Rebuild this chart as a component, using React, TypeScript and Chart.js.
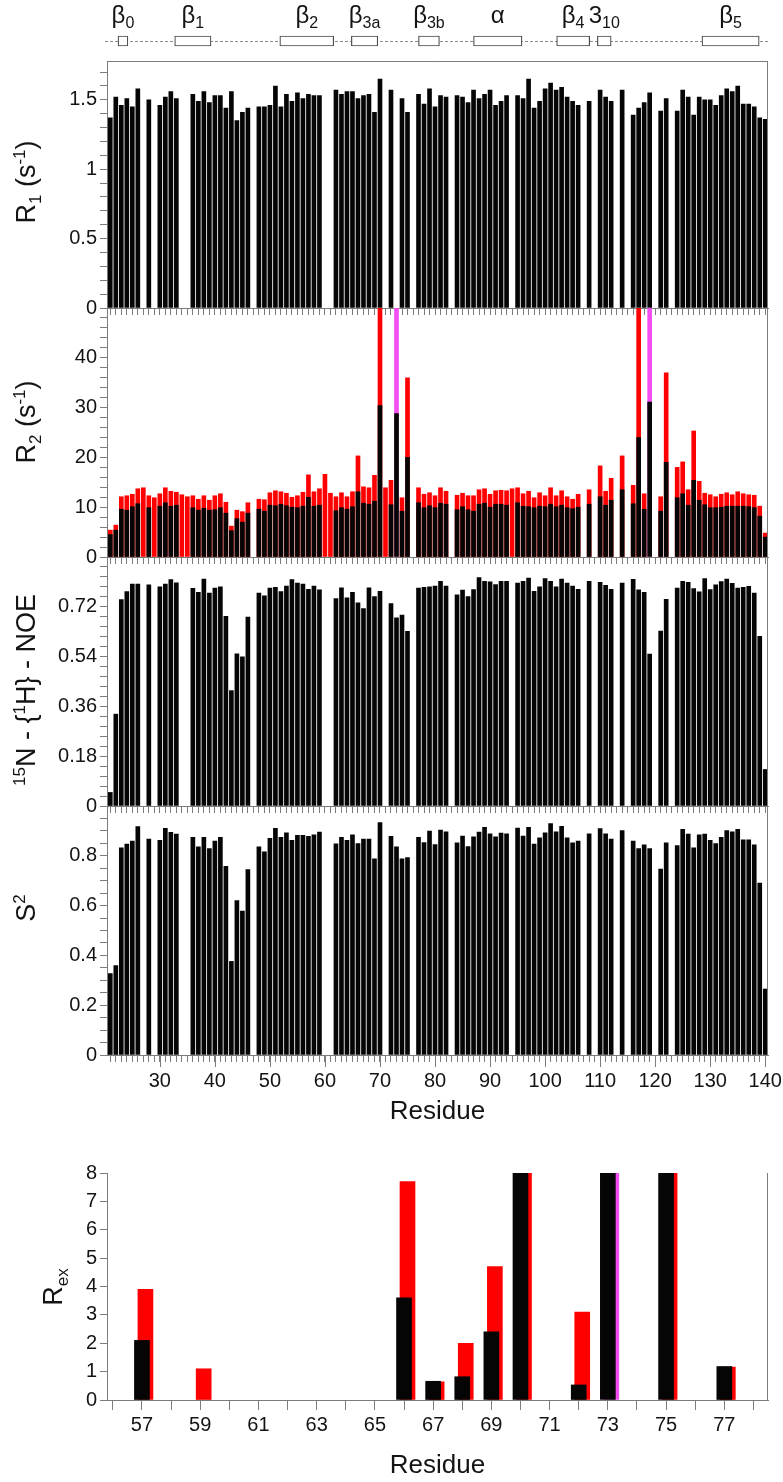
import React, { useEffect, useRef } from 'react';
import { Chart, registerables } from 'chart.js';

Chart.register(...registerables);

// ---------------- data ----------------
const residues = [
  21, 22, 23, 24, 25, 26, 27, 28, 29, 30,
  31, 32, 33, 34, 35, 36, 37, 38, 39, 40,
  41, 42, 43, 44, 45, 46, 47, 48, 49, 50,
  51, 52, 53, 54, 55, 56, 57, 58, 59, 60,
  61, 62, 63, 64, 65, 66, 67, 68, 69, 70,
  71, 72, 73, 74, 75, 76, 77, 78, 79, 80,
  81, 82, 83, 84, 85, 86, 87, 88, 89, 90,
  91, 92, 93, 94, 95, 96, 97, 98, 99, 100,
  101, 102, 103, 104, 105, 106, 107, 108, 109, 110,
  111, 112, 113, 114, 115, 116, 117, 118, 119, 120,
  121, 122, 123, 124, 125, 126, 127, 128, 129, 130,
  131, 132, 133, 134, 135, 136, 137, 138, 139, 140,
];

const r1 = [
  1.37, 1.52, 1.46, 1.51, 1.45, 1.58, null, 1.5, null, 1.46,
  1.52, 1.56, 1.51, null, null, 1.54, 1.49, 1.56, 1.48, 1.53,
  1.53, 1.44, 1.56, 1.35, 1.41, 1.44, null, 1.45, 1.45, 1.46,
  1.6, 1.45, 1.54, 1.49, 1.55, 1.51, 1.54, 1.53, 1.53, null,
  null, 1.57, 1.54, 1.56, 1.56, 1.51, 1.53, 1.54, 1.41, 1.65,
  null, 1.57, null, 1.51, 1.41, null, 1.54, 1.47, 1.58, 1.45,
  1.53, 1.52, null, 1.53, 1.52, 1.48, 1.57, 1.51, 1.54, 1.57,
  1.46, 1.49, 1.53, null, 1.53, 1.51, 1.65, 1.44, 1.49, 1.58,
  1.62, 1.57, 1.59, 1.52, 1.49, 1.46, null, 1.49, null, 1.57,
  1.52, 1.49, null, 1.57, null, 1.39, 1.44, 1.48, 1.55, null,
  1.42, 1.51, null, 1.42, 1.57, 1.52, 1.39, 1.52, 1.5, 1.5,
  1.46, 1.53, 1.58, 1.56, 1.6, 1.47, 1.47, 1.45, 1.37, 1.36,
];

const r2Black = [
  4.5, 5.4, 9.6, 9.4, 10.1, 10.7, null, 9.9, null, 10.2,
  10.9, 10.2, 10.4, null, null, 9.9, 9.4, 9.8, 9.4, 9.5,
  9.9, 8.8, 5.3, 7.7, 7.0, 8.8, null, 9.6, 9.2, 10.4,
  10.3, 10.6, 10.3, 10.0, 9.9, 10.2, 12.0, 10.2, 10.4, null,
  null, 9.3, 9.9, 9.6, 10.1, 13.1, 10.8, 10.6, 11.2, 30.4,
  null, 10.5, 28.8, 9.2, 20.0, null, 10.9, 9.9, 10.3, 9.9,
  10.8, 10.6, null, 9.5, 10.1, 9.5, 9.2, 10.6, 10.8, 10.0,
  10.6, 10.6, 10.4, null, 10.9, 10.2, 10.1, 9.9, 10.2, 10.1,
  10.6, 10.1, 10.4, 9.9, 9.7, 10.0, null, 10.6, null, 12.1,
  10.4, 11.4, null, 13.5, null, 10.7, 24.0, 9.6, 31.1, null,
  9.2, 19.0, null, 11.9, 12.7, 10.4, 15.4, 11.4, 10.5, 9.9,
  9.9, 10.0, 10.2, 10.2, 10.2, 10.2, 10.1, 9.9, 8.2, 4.0,
];

const r2Red = [
  5.4, 6.4, 12.1, 12.3, 12.6, 13.7, 13.9, 12.3, 11.9, 12.7,
  13.9, 13.2, 13.0, 12.5, 12.1, 12.3, 11.6, 12.3, 11.4, 12.3,
  12.7, 11.0, 6.2, 9.4, 9.1, 10.9, null, 11.6, 11.5, 12.9,
  13.3, 13.1, 12.8, 12.0, 12.3, 13.0, 16.5, 13.1, 13.7, 16.6,
  12.8, 12.1, 12.9, 12.1, 13.1, 20.3, 14.1, 13.9, 16.4, 52,
  13.9, 15.4, 52, 11.9, 36.0, null, 13.9, 12.6, 12.9, 12.3,
  13.9, 13.2, null, 12.4, 12.8, 12.3, 12.3, 13.5, 13.7, 12.6,
  13.3, 13.4, 13.3, 13.7, 13.9, 12.7, 13.2, 11.9, 12.9, 12.3,
  13.9, 12.3, 13.3, 12.1, 11.6, 12.6, null, 13.5, null, 18.3,
  13.2, 15.8, null, 20.3, null, 14.4, 52, 12.7, 52, null,
  12.1, 37.0, null, 18.0, 19.1, 13.5, 25.3, 15.2, 12.8, 12.5,
  12.1, 12.6, 12.9, 12.5, 13.1, 12.7, 12.5, 12.4, 10.2, 4.8,
];

const magentaResidues = [73, 119];

const noe = [
  0.049, 0.332, 0.746, 0.775, 0.802, 0.802, null, 0.799, null, 0.792,
  0.802, 0.818, 0.807, null, null, 0.787, 0.772, 0.82, 0.77, 0.788,
  0.792, 0.686, 0.417, 0.55, 0.539, 0.683, null, 0.77, 0.76, 0.788,
  0.79, 0.775, 0.795, 0.818, 0.806, 0.802, 0.783, 0.795, 0.781, null,
  null, 0.75, 0.789, 0.752, 0.772, 0.734, 0.714, 0.789, 0.757, 0.776,
  null, 0.732, 0.68, 0.69, 0.631, null, 0.788, 0.79, 0.792, 0.795,
  0.812, 0.795, null, 0.763, 0.78, 0.757, 0.782, 0.826, 0.812, 0.81,
  0.8, 0.812, 0.812, null, 0.806, 0.812, 0.824, 0.776, 0.792, 0.822,
  0.812, 0.792, 0.82, 0.806, 0.795, 0.783, null, 0.812, null, 0.808,
  0.798, 0.783, null, 0.806, null, 0.819, 0.781, 0.772, 0.549, null,
  0.632, 0.747, null, 0.788, 0.812, 0.808, 0.786, 0.774, 0.822, 0.782,
  0.799, 0.811, 0.82, 0.805, 0.788, 0.79, 0.794, 0.77, 0.613, 0.132,
];

const s2 = [
  0.327, 0.359, 0.832, 0.847, 0.859, 0.917, null, 0.867, null, 0.862,
  0.91, 0.894, 0.887, null, null, 0.874, 0.836, 0.874, 0.829, 0.859,
  0.874, 0.758, 0.376, 0.62, 0.578, 0.745, null, 0.836, 0.816, 0.87,
  0.91, 0.874, 0.892, 0.862, 0.882, 0.882, 0.878, 0.884, 0.895, null,
  null, 0.848, 0.874, 0.862, 0.884, 0.849, 0.867, 0.867, 0.788, 0.933,
  null, 0.878, 0.836, 0.788, 0.793, null, 0.874, 0.853, 0.899, 0.845,
  0.903, 0.896, null, 0.852, 0.879, 0.837, 0.876, 0.895, 0.914, 0.888,
  0.876, 0.891, 0.888, null, 0.911, 0.879, 0.914, 0.847, 0.872, 0.892,
  0.929, 0.896, 0.918, 0.872, 0.852, 0.859, null, 0.888, null, 0.909,
  0.888, 0.867, null, 0.901, null, 0.859, 0.829, 0.844, 0.829, null,
  0.747, 0.852, null, 0.841, 0.906, 0.887, 0.832, 0.884, 0.887, 0.862,
  0.849, 0.874, 0.901, 0.896, 0.906, 0.864, 0.864, 0.844, 0.69, 0.265,
];

const rexResidues = [57, 59, 66, 67, 68, 69, 70, 72, 73, 75, 77];
const rexBlack = [2.1, null, 3.6, 0.66, 0.82, 2.4, 20.4, 0.53, 18.8, 10.0, 1.18];
const rexRed = [3.9, 1.1, 7.7, 0.64, 2.0, 4.7, 40.0, 3.1, 40.0, 23.4, 1.16];
const rexMagentaResidues = [73];

const ssMain = ['β', 'β', 'β', 'β', 'β', 'α', 'β', '3', 'β'];
const ssSub = ['0', '1', '2', '3a', '3b', '', '4', '10', '5'];
const ssStart = [22.4, 32.7, 51.8, 64.8, 77.0, 87.0, 102.1, 109.5, 128.5];
const ssEnd = [24.2, 39.3, 61.6, 69.6, 80.8, 95.8, 108.1, 112.0, 138.9];

// ---------------- style ----------------
const FONT = "'Liberation Sans', Arial, Helvetica, sans-serif";
const AXIS_COLOR = '#7c7c7c';
const TEXT_COLOR = '#141414';
const BLACK = '#050505';
const RED = '#ff0000';
const MAGENTA = '#f24ef2';

const CANVAS_W = 800;
const PLOT_LEFT = 107;
const PLOT_RIGHT = 768;
const X_MIN = 20.4;
const X_MAX = 140.5;
const REX_X_MIN = 55.8;
const REX_X_MAX = 78.5;
const REX_RED_SHIFT = 0.12;

type Seg = { t: string; k?: 'sub' | 'sup' };

function drawRich(
  ctx: CanvasRenderingContext2D,
  segs: Seg[],
  x: number,
  y: number,
  size: number,
  rotate: boolean,
  subSize?: number
) {
  const small = subSize ?? Math.round(size * 0.64);
  ctx.save();
  ctx.translate(x, y);
  if (rotate) ctx.rotate(-Math.PI / 2);
  ctx.textBaseline = 'alphabetic';
  ctx.textAlign = 'left';
  ctx.fillStyle = TEXT_COLOR;
  const parts = segs.map((s) => {
    const fs = s.k ? small : size;
    ctx.font = `${fs}px ${FONT}`;
    return { s, fs, w: ctx.measureText(s.t).width };
  });
  const total = parts.reduce((a, p) => a + p.w, 0);
  let cx = -total / 2;
  for (const p of parts) {
    ctx.font = `${p.fs}px ${FONT}`;
    const dy = p.s.k === 'sub' ? size * 0.22 : p.s.k === 'sup' ? -size * 0.38 : 0;
    ctx.fillText(p.s.t, cx, dy);
    cx += p.w;
  }
  ctx.restore();
}

function framePlugin(withTop: boolean) {
  return {
    id: 'frame',
    afterDraw(chart: any) {
      const { ctx, chartArea: a } = chart;
      ctx.save();
      ctx.strokeStyle = AXIS_COLOR;
      ctx.lineWidth = 1;
      ctx.beginPath();
      const xr = Math.round(a.right) - 0.5;
      ctx.moveTo(xr, a.top);
      ctx.lineTo(xr, a.bottom);
      if (withTop) {
        const yt = Math.round(a.top) + 0.5;
        ctx.moveTo(a.left, yt);
        ctx.lineTo(xr, yt);
      }
      ctx.stroke();
      ctx.restore();
    },
  };
}

function titlePlugin(segs: Seg[], x: number, y: number, size: number) {
  return {
    id: 'richTitle',
    afterDraw(chart: any) {
      drawRich(chart.ctx, segs, x, y, size, true);
    },
  };
}

function majorTickPlugin(every: number, len: number) {
  return {
    id: 'majorTicks',
    afterDraw(chart: any) {
      const sx = chart.scales.x;
      const { ctx, chartArea } = chart;
      ctx.save();
      ctx.strokeStyle = AXIS_COLOR;
      ctx.lineWidth = 1;
      ctx.beginPath();
      sx.ticks.forEach((t: any) => {
        if (Math.round(t.value) % every === 0) {
          const px = Math.round(sx.getPixelForValue(t.value)) + 0.5;
          ctx.moveTo(px, chartArea.bottom);
          ctx.lineTo(px, chartArea.bottom + len);
        }
      });
      ctx.stroke();
      ctx.restore();
    },
  };
}

function pts(vals: (number | null)[]) {
  const out: { x: number; y: number }[] = [];
  vals.forEach((v, i) => {
    if (v !== null) out.push({ x: residues[i], y: v });
  });
  return out;
}

function barSet(data: any[], color: any, thickness: number) {
  return {
    data,
    backgroundColor: color,
    borderWidth: 0,
    barThickness: thickness,
    grouped: false,
    clip: 0,
  };
}

const redOrMagenta = (list: number[]) => (c: any) =>
  c.raw && list.includes(Math.round(c.raw.x)) ? MAGENTA : RED;

interface PanelSpec {
  top: number;
  bottom: number;
  axisH: number;
  yMax: number;
  yStep: number;
  labelEvery: number;
  dec: number;
  datasets: any[];
  title: Seg[];
  titleX: number;
  titleY: number;
  topBorder: boolean;
  xLabels: boolean;
}

const PAD_TOP = 20;

const panels: PanelSpec[] = [
  {
    top: 61, bottom: 308, axisH: 20, yMax: 1.78, yStep: 0.1, labelEvery: 5, dec: 1,
    datasets: [barSet(pts(r1), BLACK, 4)],
    title: [{ t: 'R' }, { t: '1', k: 'sub' }, { t: ' (s' }, { t: '-1', k: 'sup' }, { t: ')' }],
    titleX: 35, titleY: 182, topBorder: true, xLabels: false,
  },
  {
    top: 308, bottom: 557, axisH: 20, yMax: 50, yStep: 2, labelEvery: 5, dec: 0,
    datasets: [barSet(pts(r2Black), BLACK, 4), barSet(pts(r2Red), redOrMagenta(magentaResidues), 4)],
    title: [{ t: 'R' }, { t: '2', k: 'sub' }, { t: ' (s' }, { t: '-1', k: 'sup' }, { t: ')' }],
    titleX: 35, titleY: 422, topBorder: false, xLabels: false,
  },
  {
    top: 557, bottom: 806, axisH: 20, yMax: 0.9, yStep: 0.036, labelEvery: 5, dec: 2,
    datasets: [barSet(pts(noe), BLACK, 4)],
    title: [{ t: '15', k: 'sup' }, { t: 'N - {' }, { t: '1', k: 'sup' }, { t: 'H} - NOE' }],
    titleX: 35, titleY: 690, topBorder: false, xLabels: false,
  },
  {
    top: 806, bottom: 1055, axisH: 72, yMax: 1.0, yStep: 0.05, labelEvery: 4, dec: 1,
    datasets: [barSet(pts(s2), BLACK, 4)],
    title: [{ t: 'S' }, { t: '2', k: 'sup' }],
    titleX: 35, titleY: 908, topBorder: false, xLabels: true,
  },
];

function panelConfig(p: PanelSpec, canvasTop: number) {
  const yTick = (value: number) => {
    const k = Math.round(value / p.yStep);
    if (k % p.labelEvery !== 0) return '';
    if (value > p.yMax - p.yStep * 0.5) return '';
    return String(parseFloat(value.toFixed(p.dec)));
  };
  return {
    type: 'bar',
    data: { datasets: p.datasets },
    options: {
      responsive: false,
      animation: false,
      events: [],
      layout: { padding: { top: p.top - canvasTop, right: CANVAS_W - PLOT_RIGHT, bottom: 0, left: 0 } },
      plugins: { legend: { display: false }, tooltip: { enabled: false }, title: { display: false } },
      scales: {
        x: {
          type: 'linear',
          min: X_MIN,
          max: X_MAX,
          offset: false,
          grid: { display: true, drawOnChartArea: false, drawTicks: true, tickLength: 7, color: AXIS_COLOR, offset: false },
          border: { display: true, color: AXIS_COLOR, width: 1 },
          ticks: {
            display: p.xLabels,
            stepSize: 1,
            autoSkip: false,
            includeBounds: false,
            maxRotation: 0,
            minRotation: 0,
            padding: 7,
            font: { family: FONT, size: 20 },
            color: TEXT_COLOR,
            callback: (v: number) => (Math.abs(v - Math.round(v)) < 1e-6 && Math.round(v) % 10 === 0 ? String(Math.round(v)) : ''),
          },
          title: p.xLabels
            ? { display: true, text: 'Residue', font: { family: FONT, size: 26 }, color: TEXT_COLOR, padding: { top: 0, bottom: 0 } }
            : { display: false },
          afterFit: (s: any) => {
            s.height = p.axisH;
          },
        },
        y: {
          type: 'linear',
          min: 0,
          max: p.yMax,
          grid: { display: true, drawOnChartArea: false, drawTicks: true, tickLength: 7, color: AXIS_COLOR },
          border: { display: true, color: AXIS_COLOR, width: 1 },
          ticks: {
            stepSize: p.yStep,
            autoSkip: false,
            includeBounds: false,
            padding: 3,
            font: { family: FONT, size: 20 },
            color: TEXT_COLOR,
            callback: yTick,
          },
          afterFit: (s: any) => {
            s.width = PLOT_LEFT;
          },
        },
      },
    },
    plugins: [
      framePlugin(p.topBorder),
      titlePlugin(p.title, p.titleX, p.titleY - canvasTop, 27),
      ...(p.xLabels ? [majorTickPlugin(10, 12)] : []),
    ],
  };
}

const REX_TOP = 1173;
const REX_BOTTOM = 1400;
const REX_AXIS_H = 81;
const REX_CANVAS_TOP = REX_TOP - PAD_TOP;

function rexConfig() {
  const black = rexResidues
    .map((r, i) => ({ x: r, y: rexBlack[i] }))
    .filter((d) => d.y !== null);
  const red = rexResidues.map((r, i) => ({ x: r + REX_RED_SHIFT, y: rexRed[i] }));
  return {
    type: 'bar',
    data: {
      datasets: [barSet(black, BLACK, 15), barSet(red, redOrMagenta(rexMagentaResidues), 15)],
    },
    options: {
      responsive: false,
      animation: false,
      events: [],
      layout: { padding: { top: REX_TOP - REX_CANVAS_TOP, right: CANVAS_W - PLOT_RIGHT, bottom: 0, left: 0 } },
      plugins: { legend: { display: false }, tooltip: { enabled: false } },
      scales: {
        x: {
          type: 'linear',
          min: REX_X_MIN,
          max: REX_X_MAX,
          offset: false,
          grid: { display: true, drawOnChartArea: false, tickLength: 10, color: AXIS_COLOR, offset: false },
          border: { display: true, color: AXIS_COLOR, width: 1 },
          ticks: {
            stepSize: 1,
            autoSkip: false,
            includeBounds: false,
            maxRotation: 0,
            padding: 3,
            font: { family: FONT, size: 20 },
            color: TEXT_COLOR,
            callback: (v: number) => (Math.round(v) % 2 === 1 ? String(Math.round(v)) : ''),
          },
          title: { display: true, text: 'Residue', font: { family: FONT, size: 26 }, color: TEXT_COLOR, padding: { top: 0, bottom: 0 } },
          afterFit: (s: any) => {
            s.height = REX_AXIS_H;
          },
        },
        y: {
          type: 'linear',
          min: 0,
          max: 8,
          grid: { display: true, drawOnChartArea: false, tickLength: 7, color: AXIS_COLOR },
          border: { display: true, color: AXIS_COLOR, width: 1 },
          ticks: { stepSize: 1, autoSkip: false, padding: 3, font: { family: FONT, size: 20 }, color: TEXT_COLOR },
          afterFit: (s: any) => {
            s.width = PLOT_LEFT;
          },
        },
      },
    },
    plugins: [
      framePlugin(false),
      titlePlugin([{ t: 'R' }, { t: 'ex', k: 'sub' }], 62, 1287 - REX_CANVAS_TOP, 27),
    ],
  };
}

const SS_H = 60;

function ssConfig() {
  return {
    type: 'bar',
    data: {
      datasets: [
        {
          data: ssStart.map((s, i) => ({ x: [s, ssEnd[i]], y: 0 })),
          backgroundColor: '#ffffff',
          borderColor: '#4a4a4a',
          borderWidth: 1.2,
          borderSkipped: false,
          barThickness: 10,
        },
      ],
    },
    options: {
      indexAxis: 'y',
      responsive: false,
      animation: false,
      events: [],
      layout: { padding: { left: PLOT_LEFT, right: CANVAS_W - PLOT_RIGHT, top: 31, bottom: SS_H - 51 } },
      plugins: { legend: { display: false }, tooltip: { enabled: false } },
      scales: {
        x: { type: 'linear', min: X_MIN, max: X_MAX, display: false, offset: false },
        y: { type: 'linear', min: -1, max: 1, display: false, offset: false, grid: { offset: false } },
      },
    },
    plugins: [
      {
        id: 'ssDecor',
        beforeDatasetsDraw(chart: any) {
          const { ctx, chartArea } = chart;
          const y = Math.round(chart.scales.y.getPixelForValue(0)) + 0.5;
          ctx.save();
          ctx.strokeStyle = '#8c8c8c';
          ctx.lineWidth = 1;
          ctx.setLineDash([3, 2]);
          ctx.beginPath();
          ctx.moveTo(chartArea.left - 2, y);
          ctx.lineTo(chartArea.right + 2, y);
          ctx.stroke();
          ctx.restore();
        },
        afterDatasetsDraw(chart: any) {
          const sx = chart.scales.x;
          ssMain.forEach((m, i) => {
            const cx = sx.getPixelForValue((ssStart[i] + ssEnd[i]) / 2);
            const segs: Seg[] = [{ t: m }];
            if (ssSub[i]) segs.push({ t: ssSub[i], k: 'sub' });
            drawRich(chart.ctx, segs, cx, 23, 24, false, 16);
          });
        },
      },
    ],
  };
}

export default function App() {
  const ssRef = useRef<HTMLCanvasElement | null>(null);
  const panelRefs = useRef<(HTMLCanvasElement | null)[]>([]);
  const rexRef = useRef<HTMLCanvasElement | null>(null);

  useEffect(() => {
    const charts: Chart[] = [];
    if (ssRef.current) charts.push(new Chart(ssRef.current, ssConfig() as any));
    panels.forEach((p, i) => {
      const c = panelRefs.current[i];
      if (c) charts.push(new Chart(c, panelConfig(p, p.top - PAD_TOP) as any));
    });
    if (rexRef.current) charts.push(new Chart(rexRef.current, rexConfig() as any));
    return () => charts.forEach((c) => c.destroy());
  }, []);

  const cstyle = (top: number, h: number): React.CSSProperties => ({
    position: 'absolute',
    left: 0,
    top,
    width: CANVAS_W,
    height: h,
  });

  return (
    <div
      style={{
        position: 'absolute',
        left: 0,
        top: 0,
        width: 783,
        height: 1482,
        overflow: 'hidden',
        background: '#ffffff',
      }}
    >
      <canvas ref={ssRef} width={CANVAS_W} height={SS_H} style={cstyle(0, SS_H)} />
      {panels.map((p, i) => {
        const top = p.top - PAD_TOP;
        const h = p.bottom + p.axisH - top;
        return (
          <canvas
            key={i}
            ref={(el) => {
              panelRefs.current[i] = el;
            }}
            width={CANVAS_W}
            height={h}
            style={cstyle(top, h)}
          />
        );
      })}
      <canvas
        ref={rexRef}
        width={CANVAS_W}
        height={REX_BOTTOM + REX_AXIS_H - REX_CANVAS_TOP}
        style={cstyle(REX_CANVAS_TOP, REX_BOTTOM + REX_AXIS_H - REX_CANVAS_TOP)}
      />
    </div>
  );
}
